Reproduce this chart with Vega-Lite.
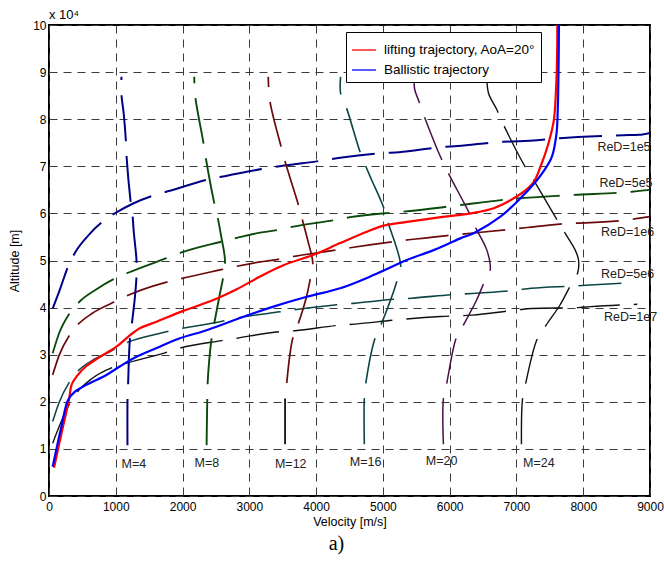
{
  "$schema": "https://vega.github.io/schema/vega-lite/v6.json",
  "width": 601,
  "height": 471,
  "autosize": {"type": "none"},
  "padding": {"left": 49, "top": 25, "right": 14, "bottom": 72},
  "title": {"text": "a)", "orient": "bottom", "font": "Liberation Serif", "fontSize": 20, "fontWeight": "normal", "color": "#000", "dx": -13, "offset": 6},
  "config": {
    "font": "Liberation Sans",
    "view": {"stroke": "#000", "strokeWidth": 2},
    "axis": {"labelFont": "Liberation Sans", "labelFontSize": 12, "labelColor": "#000", "titleFont": "Liberation Sans", "titleFontSize": 12.5, "titleFontWeight": "normal", "titleColor": "#000", "grid": true, "gridDash": [8, 6], "gridColor": "#3a3a3a", "gridOpacity": 1, "gridWidth": 1, "ticks": false, "domain": false}
  },
  "datasets": {
    "reyn": [
      {"g":"1e5","v":55,"a":3.98},{"g":"1e5","v":160,"a":4.37},{"g":"1e5","v":285,"a":4.87},{"g":"1e5","v":400,"a":5.19},{"g":"1e5","v":600,"a":5.55},{"g":"1e5","v":835,"a":5.86},{"g":"1e5","v":1010,"a":6.02},{"g":"1e5","v":1260,"a":6.21},{"g":"1e5","v":1585,"a":6.39},{"g":"1e5","v":1810,"a":6.48},{"g":"1e5","v":2410,"a":6.73},{"g":"1e5","v":2630,"a":6.79},{"g":"1e5","v":3260,"a":6.96},{"g":"1e5","v":3500,"a":7.01},{"g":"1e5","v":4130,"a":7.13},{"g":"1e5","v":4360,"a":7.18},{"g":"1e5","v":5000,"a":7.28},{"g":"1e5","v":5240,"a":7.3},{"g":"1e5","v":5900,"a":7.41},{"g":"1e5","v":6120,"a":7.43},{"g":"1e5","v":6800,"a":7.52},{"g":"1e5","v":7040,"a":7.53},{"g":"1e5","v":7700,"a":7.6},{"g":"1e5","v":7920,"a":7.62},{"g":"1e5","v":8600,"a":7.66},{"g":"1e5","v":8840,"a":7.67},{"g":"1e5","v":9000,"a":7.71},
      {"g":"5e5","v":55,"a":3.03},{"g":"5e5","v":150,"a":3.45},{"g":"5e5","v":310,"a":3.88},{"g":"5e5","v":460,"a":4.13},{"g":"5e5","v":700,"a":4.38},{"g":"5e5","v":960,"a":4.6},{"g":"5e5","v":1185,"a":4.74},{"g":"5e5","v":1760,"a":5.05},{"g":"5e5","v":1985,"a":5.17},{"g":"5e5","v":2585,"a":5.4},{"g":"5e5","v":2810,"a":5.48},{"g":"5e5","v":3160,"a":5.59},{"g":"5e5","v":3435,"a":5.65},{"g":"5e5","v":3660,"a":5.72},{"g":"5e5","v":4285,"a":5.86},{"g":"5e5","v":4510,"a":5.92},{"g":"5e5","v":5160,"a":6.02},{"g":"5e5","v":5410,"a":6.05},{"g":"5e5","v":6060,"a":6.16},{"g":"5e5","v":6960,"a":6.31},{"g":"5e5","v":7830,"a":6.39},{"g":"5e5","v":8730,"a":6.46},{"g":"5e5","v":9000,"a":6.5},
      {"g":"1e6","v":55,"a":2.57},{"g":"1e6","v":150,"a":2.98},{"g":"1e6","v":310,"a":3.42},{"g":"1e6","v":420,"a":3.62},{"g":"1e6","v":650,"a":3.88},{"g":"1e6","v":935,"a":4.09},{"g":"1e6","v":1135,"a":4.23},{"g":"1e6","v":1735,"a":4.53},{"g":"1e6","v":1935,"a":4.6},{"g":"1e6","v":2560,"a":4.8},{"g":"1e6","v":2785,"a":4.87},{"g":"1e6","v":3160,"a":4.97},{"g":"1e6","v":3410,"a":5.02},{"g":"1e6","v":3635,"a":5.08},{"g":"1e6","v":4285,"a":5.22},{"g":"1e6","v":4510,"a":5.27},{"g":"1e6","v":5160,"a":5.4},{"g":"1e6","v":5385,"a":5.44},{"g":"1e6","v":6035,"a":5.54},{"g":"1e6","v":6910,"a":5.66},{"g":"1e6","v":7160,"a":5.7},{"g":"1e6","v":7810,"a":5.79},{"g":"1e6","v":8035,"a":5.8},{"g":"1e6","v":8710,"a":5.87},{"g":"1e6","v":9000,"a":5.93},
      {"g":"5e6","v":55,"a":1.58},{"g":"5e6","v":150,"a":1.98},{"g":"5e6","v":310,"a":2.43},{"g":"5e6","v":410,"a":2.62},{"g":"5e6","v":650,"a":2.88},{"g":"5e6","v":910,"a":3.06},{"g":"5e6","v":1110,"a":3.22},{"g":"5e6","v":1710,"a":3.47},{"g":"5e6","v":1960,"a":3.55},{"g":"5e6","v":2560,"a":3.7},{"g":"5e6","v":2785,"a":3.77},{"g":"5e6","v":3460,"a":3.91},{"g":"5e6","v":3710,"a":3.96},{"g":"5e6","v":4310,"a":4.06},{"g":"5e6","v":4560,"a":4.09},{"g":"5e6","v":5210,"a":4.18},{"g":"5e6","v":5430,"a":4.2},{"g":"5e6","v":6080,"a":4.28},{"g":"5e6","v":6335,"a":4.3},{"g":"5e6","v":6980,"a":4.37},{"g":"5e6","v":7220,"a":4.41},{"g":"5e6","v":7880,"a":4.46},{"g":"5e6","v":8100,"a":4.48},{"g":"5e6","v":8780,"a":4.53},
      {"g":"1e7","v":55,"a":1.12},{"g":"1e7","v":160,"a":1.5},{"g":"1e7","v":260,"a":1.83},{"g":"1e7","v":410,"a":2.18},{"g":"1e7","v":650,"a":2.5},{"g":"1e7","v":935,"a":2.72},{"g":"1e7","v":1185,"a":2.83},{"g":"1e7","v":1735,"a":3.04},{"g":"1e7","v":1960,"a":3.14},{"g":"1e7","v":2585,"a":3.3},{"g":"1e7","v":2810,"a":3.35},{"g":"1e7","v":3460,"a":3.49},{"g":"1e7","v":3685,"a":3.51},{"g":"1e7","v":4310,"a":3.62},{"g":"1e7","v":4585,"a":3.65},{"g":"1e7","v":5210,"a":3.74},{"g":"1e7","v":5860,"a":3.81},{"g":"1e7","v":6335,"a":3.84},{"g":"1e7","v":7010,"a":3.95},{"g":"1e7","v":7230,"a":3.98},{"g":"1e7","v":7930,"a":4.0},{"g":"1e7","v":8110,"a":4.02},{"g":"1e7","v":8810,"a":4.07}
    ],
    "mach": [
      {"g":"M4","v":1175,"a":1.08},{"g":"M4","v":1176,"a":2.07},{"g":"M4","v":1185,"a":2.4},{"g":"M4","v":1210,"a":3.3},{"g":"M4","v":1245,"a":3.7},{"g":"M4","v":1285,"a":4.2},{"g":"M4","v":1310,"a":4.66},{"g":"M4","v":1310,"a":5.01},{"g":"M4","v":1270,"a":5.6},{"g":"M4","v":1250,"a":5.97},{"g":"M4","v":1220,"a":6.28},{"g":"M4","v":1160,"a":7.24},{"g":"M4","v":1150,"a":7.57},{"g":"M4","v":1120,"a":8.1},{"g":"M4","v":1085,"a":8.53},{"g":"M4","v":1085,"a":8.9},
      {"g":"M8","v":2360,"a":1.08},{"g":"M8","v":2370,"a":2.07},{"g":"M8","v":2375,"a":2.39},{"g":"M8","v":2435,"a":3.35},{"g":"M8","v":2485,"a":3.74},{"g":"M8","v":2560,"a":4.3},{"g":"M8","v":2610,"a":4.66},{"g":"M8","v":2635,"a":5.01},{"g":"M8","v":2580,"a":5.5},{"g":"M8","v":2525,"a":5.92},{"g":"M8","v":2470,"a":6.25},{"g":"M8","v":2345,"a":7.2},{"g":"M8","v":2310,"a":7.52},{"g":"M8","v":2190,"a":8.48},{"g":"M8","v":2175,"a":8.9},
      {"g":"M12b","v":3535,"a":1.1},{"g":"M12b","v":3535,"a":2.07},
      {"g":"M12","v":3560,"a":2.4},{"g":"M12","v":3650,"a":3.35},{"g":"M12","v":3735,"a":3.67},{"g":"M12","v":3850,"a":4.2},{"g":"M12","v":3910,"a":4.59},{"g":"M12","v":3950,"a":4.95},{"g":"M12","v":3880,"a":5.4},{"g":"M12","v":3795,"a":5.86},{"g":"M12","v":3735,"a":6.18},{"g":"M12","v":3535,"a":7.1},{"g":"M12","v":3475,"a":7.42},{"g":"M12","v":3310,"a":8.37},{"g":"M12","v":3283,"a":8.9},
      {"g":"M16","v":4722,"a":1.1},{"g":"M16","v":4722,"a":2.07},{"g":"M16","v":4745,"a":2.4},{"g":"M16","v":4882,"a":3.35},{"g":"M16","v":4982,"a":3.67},{"g":"M16","v":5150,"a":4.3},{"g":"M16","v":5207,"a":4.55},{"g":"M16","v":5267,"a":4.88},{"g":"M16","v":5082,"a":5.79},{"g":"M16","v":5007,"a":6.14},{"g":"M16","v":4832,"a":6.71},{"g":"M16","v":4747,"a":6.99},{"g":"M16","v":4657,"a":7.31},{"g":"M16","v":4457,"a":8.23},{"g":"M16","v":4367,"a":8.55},{"g":"M16","v":4367,"a":8.9},
      {"g":"M20","v":5906,"a":1.1},{"g":"M20","v":5906,"a":2.06},{"g":"M20","v":5957,"a":2.4},{"g":"M20","v":6097,"a":3.35},{"g":"M20","v":6206,"a":3.63},{"g":"M20","v":6400,"a":4.15},{"g":"M20","v":6506,"a":4.5},{"g":"M20","v":6607,"a":4.8},{"g":"M20","v":6557,"a":5.22},{"g":"M20","v":6380,"a":5.72},{"g":"M20","v":6296,"a":6.0},{"g":"M20","v":6032,"a":6.71},{"g":"M20","v":5982,"a":6.85},{"g":"M20","v":5872,"a":7.17},{"g":"M20","v":5622,"a":8.05},{"g":"M20","v":5542,"a":8.37},{"g":"M20","v":5474,"a":8.65},{"g":"M20","v":5474,"a":8.9},
      {"g":"M24","v":7075,"a":1.1},{"g":"M24","v":7090,"a":2.04},{"g":"M24","v":7140,"a":2.4},{"g":"M24","v":7305,"a":3.31},{"g":"M24","v":7445,"a":3.63},{"g":"M24","v":7650,"a":4.05},{"g":"M24","v":7795,"a":4.43},{"g":"M24","v":7915,"a":4.73},{"g":"M24","v":7930,"a":5.01},{"g":"M24","v":7880,"a":5.22},{"g":"M24","v":7715,"a":5.61},{"g":"M24","v":7580,"a":5.93},{"g":"M24","v":7255,"a":6.71},{"g":"M24","v":7130,"a":6.99},{"g":"M24","v":6807,"a":7.88},{"g":"M24","v":6707,"a":8.2},{"g":"M24","v":6582,"a":8.55},{"g":"M24","v":6557,"a":8.9}
    ],
    "traj": [
      {"s":"lifting trajectory, AoA=20°","v":75,"a":0.6},{"s":"lifting trajectory, AoA=20°","v":190,"a":1.35},{"s":"lifting trajectory, AoA=20°","v":300,"a":2.05},{"s":"lifting trajectory, AoA=20°","v":340,"a":2.37},{"s":"lifting trajectory, AoA=20°","v":420,"a":2.55},{"s":"lifting trajectory, AoA=20°","v":560,"a":2.76},{"s":"lifting trajectory, AoA=20°","v":760,"a":2.95},{"s":"lifting trajectory, AoA=20°","v":1010,"a":3.17},{"s":"lifting trajectory, AoA=20°","v":1185,"a":3.38},{"s":"lifting trajectory, AoA=20°","v":1360,"a":3.56},{"s":"lifting trajectory, AoA=20°","v":1610,"a":3.7},{"s":"lifting trajectory, AoA=20°","v":2010,"a":3.93},{"s":"lifting trajectory, AoA=20°","v":2460,"a":4.16},{"s":"lifting trajectory, AoA=20°","v":2810,"a":4.39},{"s":"lifting trajectory, AoA=20°","v":3160,"a":4.66},{"s":"lifting trajectory, AoA=20°","v":3510,"a":4.9},{"s":"lifting trajectory, AoA=20°","v":3960,"a":5.12},{"s":"lifting trajectory, AoA=20°","v":4360,"a":5.37},{"s":"lifting trajectory, AoA=20°","v":4760,"a":5.61},{"s":"lifting trajectory, AoA=20°","v":5010,"a":5.74},{"s":"lifting trajectory, AoA=20°","v":5360,"a":5.82},{"s":"lifting trajectory, AoA=20°","v":5760,"a":5.9},{"s":"lifting trajectory, AoA=20°","v":6160,"a":5.97},{"s":"lifting trajectory, AoA=20°","v":6360,"a":6.01},{"s":"lifting trajectory, AoA=20°","v":6660,"a":6.11},{"s":"lifting trajectory, AoA=20°","v":6910,"a":6.28},{"s":"lifting trajectory, AoA=20°","v":7110,"a":6.46},{"s":"lifting trajectory, AoA=20°","v":7260,"a":6.67},{"s":"lifting trajectory, AoA=20°","v":7360,"a":6.99},{"s":"lifting trajectory, AoA=20°","v":7480,"a":7.49},{"s":"lifting trajectory, AoA=20°","v":7560,"a":7.98},{"s":"lifting trajectory, AoA=20°","v":7590,"a":8.55},{"s":"lifting trajectory, AoA=20°","v":7608,"a":9.26},{"s":"lifting trajectory, AoA=20°","v":7612,"a":10},
      {"s":"Ballistic trajectory","v":55,"a":0.62},{"s":"Ballistic trajectory","v":185,"a":1.47},{"s":"Ballistic trajectory","v":285,"a":2.04},{"s":"Ballistic trajectory","v":385,"a":2.21},{"s":"Ballistic trajectory","v":560,"a":2.36},{"s":"Ballistic trajectory","v":860,"a":2.57},{"s":"Ballistic trajectory","v":1060,"a":2.75},{"s":"Ballistic trajectory","v":1260,"a":2.92},{"s":"Ballistic trajectory","v":1610,"a":3.14},{"s":"Ballistic trajectory","v":1960,"a":3.35},{"s":"Ballistic trajectory","v":2360,"a":3.52},{"s":"Ballistic trajectory","v":2860,"a":3.78},{"s":"Ballistic trajectory","v":3360,"a":4.02},{"s":"Ballistic trajectory","v":3860,"a":4.23},{"s":"Ballistic trajectory","v":4360,"a":4.41},{"s":"Ballistic trajectory","v":4860,"a":4.69},{"s":"Ballistic trajectory","v":5360,"a":5.01},{"s":"Ballistic trajectory","v":5760,"a":5.22},{"s":"Ballistic trajectory","v":6160,"a":5.47},{"s":"Ballistic trajectory","v":6360,"a":5.58},{"s":"Ballistic trajectory","v":6760,"a":5.93},{"s":"Ballistic trajectory","v":7060,"a":6.32},{"s":"Ballistic trajectory","v":7310,"a":6.71},{"s":"Ballistic trajectory","v":7400,"a":6.88},{"s":"Ballistic trajectory","v":7530,"a":7.2},{"s":"Ballistic trajectory","v":7600,"a":7.7},{"s":"Ballistic trajectory","v":7620,"a":8.27},{"s":"Ballistic trajectory","v":7632,"a":9.26},{"s":"Ballistic trajectory","v":7636,"a":10}
    ],
    "labels": [
      {"t":"M=4","v":1270,"a":0.69},{"t":"M=8","v":2365,"a":0.71},{"t":"M=12","v":3620,"a":0.69},{"t":"M=16","v":4740,"a":0.73},{"t":"M=20","v":5880,"a":0.75},{"t":"M=24","v":7335,"a":0.71},
      {"t":"ReD=1e5","v":8610,"a":7.42},{"t":"ReD=5e5","v":8640,"a":6.65},{"t":"ReD=1e6","v":8665,"a":5.61},{"t":"ReD=5e6","v":8665,"a":4.71},{"t":"ReD=1e7","v":8710,"a":3.79}
    ],
    "mult": [{"t":"x 10⁴","v":0,"a":10}]
  },
  "encoding": {
    "x": {"field": "v", "type": "quantitative", "scale": {"domain": [0, 9000], "nice": false, "zero": false}, "axis": {"values": [0,1000,2000,3000,4000,5000,6000,7000,8000,9000], "format": "d", "title": "Velocity [m/s]", "labelPadding": 5, "titlePadding": 3, "labelFlush": false}},
    "y": {"field": "a", "type": "quantitative", "scale": {"domain": [0, 10], "nice": false}, "axis": {"values": [0,1,2,3,4,5,6,7,8,9,10], "format": "d", "title": "Altitude [m]", "labelPadding": 3, "titlePadding": 11, "labelFlush": false}}
  },
  "layer": [
    {
      "data": {"name": "reyn"},
      "mark": {"type": "line", "strokeDash": [43, 14], "interpolate": "monotone", "clip": true},
      "encoding": {
        "detail": {"field": "g"},
        "color": {"field": "g", "type": "nominal", "scale": {"domain": ["1e5","5e5","1e6","5e6","1e7"], "range": ["#000085","#0b4a0b","#6a0a0a","#0d4545","#111111"]}, "legend": null},
        "strokeWidth": {"field": "g", "type": "nominal", "scale": {"domain": ["1e5","5e5","1e6","5e6","1e7"], "range": [2, 1.4, 1.2, 1.1, 0.9]}, "legend": null}
      }
    },
    {
      "data": {"name": "mach"},
      "mark": {"type": "line", "strokeDash": [46, 15], "interpolate": "catmull-rom", "clip": true},
      "encoding": {
        "order": {"field": "a", "type": "quantitative"},
        "detail": {"field": "g"},
        "color": {"field": "g", "type": "nominal", "scale": {"domain": ["M4","M8","M12b","M12","M16","M20","M24"], "range": ["#000085","#0b4a0b","#111111","#6a0a0a","#0d4545","#4a0f4a","#111111"]}, "legend": null},
        "strokeWidth": {"field": "g", "type": "nominal", "scale": {"domain": ["M4","M8","M12b","M12","M16","M20","M24"], "range": [2, 1.4, 1, 1.2, 1.2, 1.3, 0.9]}, "legend": null}
      }
    },
    {
      "data": {"name": "traj"},
      "mark": {"type": "line", "strokeWidth": 2.2, "interpolate": "catmull-rom", "clip": true},
      "encoding": {
        "order": {"field": "a", "type": "quantitative"},
        "color": {"field": "s", "type": "nominal", "scale": {"domain": ["lifting trajectory, AoA=20°", "Ballistic trajectory"], "range": ["#ff0000", "#0000ff"]},
          "legend": {"title": null, "orient": "none", "legendX": 297, "legendY": 7, "direction": "vertical", "strokeColor": "#000", "fillColor": "#fff", "padding": 5, "symbolType": "stroke", "symbolSize": 576, "symbolStrokeWidth": 1.3, "labelFont": "Liberation Sans", "labelFontSize": 13.5, "labelColor": "#000", "labelOffset": 7, "rowPadding": 0, "labelLimit": 400}}
      }
    },
    {
      "data": {"name": "labels"},
      "mark": {"type": "text", "font": "Liberation Sans", "fontSize": 12.5, "color": "#222", "align": "center", "baseline": "middle"},
      "encoding": {"text": {"field": "t"}}
    },
    {
      "data": {"name": "mult"},
      "mark": {"type": "text", "font": "Liberation Sans", "fontSize": 13, "color": "#000", "align": "left", "baseline": "alphabetic", "dy": -6},
      "encoding": {"text": {"field": "t"}}
    }
  ],
  "resolve": {"scale": {"color": "independent", "strokeWidth": "independent"}}
}
